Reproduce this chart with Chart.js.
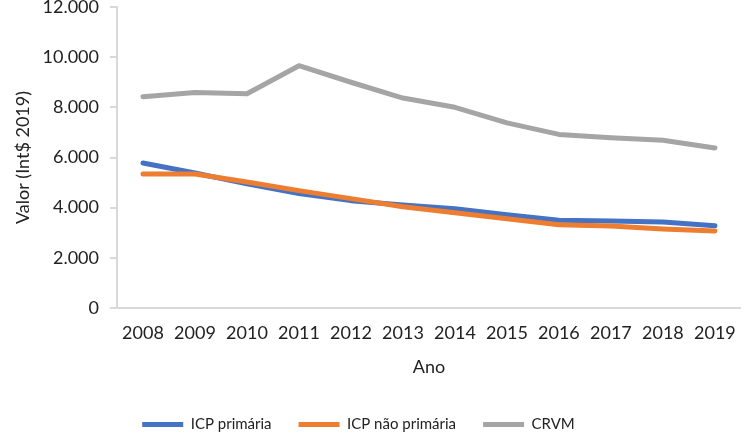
<!DOCTYPE html>
<html>
<head>
<meta charset="utf-8">
<script src="https://cdn.jsdelivr.net/npm/chart.js@4"></script>
<style>
  html, body { margin: 0; padding: 0; background: #fff; }
  #wrap { width: 750px; height: 439px; }
</style>
</head>
<body>
<div id="wrap"><canvas id="chart" width="750" height="439"></canvas></div>
<script>
const anos = ["2008", "2009", "2010", "2011", "2012", "2013", "2014", "2015", "2016", "2017", "2018", "2019"];
const icpPrimaria = [5780, 5380, 4950, 4560, 4280, 4110, 3960, 3720, 3500, 3470, 3430, 3280];
const icpNaoPrimaria = [5340, 5340, 5020, 4680, 4360, 4040, 3800, 3560, 3320, 3270, 3150, 3070];
const crvm = [8420, 8590, 8540, 9660, 9000, 8370, 8000, 7380, 6920, 6790, 6690, 6380];

const font = "Lato, 'Open Sans', sans-serif";
const textColor = "#222";
const axisColor = "#d9d9d9";

function fmt(v) {
    return String(v).replace(/\B(?=(\d{3})+(?!\d))/g, ".");
}

function serie(label, data, color, order) {
    return {
        label: label,
        data: data,
        borderColor: color,
        backgroundColor: color,
        borderWidth: 5,
        pointRadius: 0,
        tension: 0,
        borderCapStyle: "round",
        borderJoinStyle: "round",
        order: order
    };
}

// nudge legend to where the original sits
const legendShift = {
    id: "legendShift",
    afterLayout(chart) {
        const lg = chart.legend;
        lg.left -= 14; lg.right -= 14;
        lg.top += 3; lg.bottom += 3;
    }
};

new Chart(document.getElementById("chart"), {
    type: "line",
    data: {
        labels: anos,
        datasets: [
            serie("ICP primária", icpPrimaria, "#4472c4", 3),
            serie("ICP não primária", icpNaoPrimaria, "#ed7d31", 2),
            serie("CRVM", crvm, "#a5a5a5", 1)
        ]
    },
    options: {
        animation: false,
        responsive: false,
        layout: { padding: { left: 0, right: 5, top: 0, bottom: 0 } },
        plugins: {
            legend: {
                position: "bottom",
                labels: {
                    color: textColor,
                    font: { family: font, size: 15 },
                    boxWidth: 41,
                    boxHeight: 5,
                    padding: 27,
                    sort: (a, b) => a.datasetIndex - b.datasetIndex,
                    generateLabels: (chart) => Chart.defaults.plugins.legend.labels.generateLabels(chart)
                        .map(it => Object.assign(it, { lineWidth: 0 }))
                }
            },
            tooltip: { enabled: false }
        },
        scales: {
            x: {
                offset: true,
                grid: { display: false, drawTicks: false },
                border: { color: axisColor, width: 2 },
                ticks: { color: textColor, font: { family: font, size: 18 }, padding: 14, maxRotation: 0 },
                title: { display: true, text: "Ano", color: textColor, font: { family: font, size: 18 }, padding: { top: 0, bottom: 9 } },
                afterFit: (s) => { s.height = 79; }
            },
            y: {
                min: 0,
                max: 12000,
                grid: { drawOnChartArea: false, color: axisColor, tickLength: 7, lineWidth: 2 },
                border: { color: axisColor, width: 2 },
                ticks: { stepSize: 2000, color: textColor, font: { family: font, size: 18 }, padding: 11, callback: (v) => fmt(v) },
                title: { display: true, text: "Valor (Int$ 2019)", color: textColor, font: { family: font, size: 18 }, padding: { top: 12, bottom: 0 } },
                afterFit: (s) => { s.width = 117; s.paddingTop = 7; }
            }
        }
    },
    plugins: [legendShift]
});
</script>
</body>
</html>
